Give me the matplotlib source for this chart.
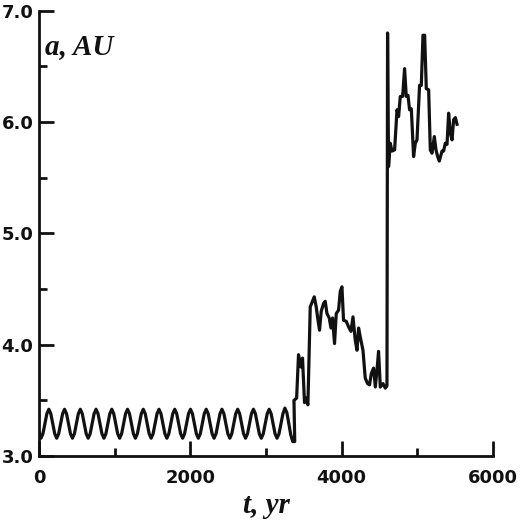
import matplotlib
matplotlib.use("Agg")
import matplotlib.pyplot as plt
import numpy as np
from matplotlib.ticker import MultipleLocator, FormatStrFormatter

# regular oscillation part, sampled every 26 yr from t = 0
osc_step = 26
osc_a = [3.22, 3.16, 3.20, 3.29, 3.38,
         3.42, 3.38, 3.29, 3.20, 3.16, 3.20, 3.29, 3.38,
         3.42, 3.38, 3.29, 3.20, 3.16, 3.20, 3.29, 3.38,
         3.42, 3.38, 3.29, 3.20, 3.16, 3.20, 3.29, 3.38,
         3.42, 3.38, 3.29, 3.20, 3.16, 3.20, 3.29, 3.38,
         3.42, 3.38, 3.29, 3.20, 3.16, 3.20, 3.29, 3.38,
         3.42, 3.38, 3.29, 3.20, 3.16, 3.20, 3.29, 3.38,
         3.42, 3.38, 3.29, 3.20, 3.16, 3.20, 3.29, 3.38,
         3.42, 3.38, 3.29, 3.20, 3.16, 3.20, 3.29, 3.38,
         3.42, 3.38, 3.29, 3.20, 3.16, 3.20, 3.29, 3.38,
         3.42, 3.38, 3.29, 3.20, 3.16, 3.20, 3.29, 3.38,
         3.42, 3.38, 3.29, 3.20, 3.16, 3.20, 3.29, 3.38,
         3.42, 3.38, 3.29, 3.20, 3.16, 3.20, 3.29, 3.38,
         3.42, 3.38, 3.29, 3.20, 3.16, 3.20, 3.29, 3.38,
         3.42, 3.38, 3.29, 3.20, 3.16, 3.20, 3.29, 3.38,
         3.42, 3.38, 3.29, 3.20, 3.16, 3.20, 3.29, 3.38,
         3.43, 3.39, 3.29, 3.19, 3.13, 3.13]
osc_t = np.arange(len(osc_a)) * osc_step

# irregular part after ~3370 yr
t_irr = [3370, 3405, 3430, 3462, 3483, 3509, 3530, 3554, 3585, 3621, 3638,
         3664, 3681, 3708, 3730, 3761, 3783, 3806, 3836, 3859, 3880, 3906,
         3929, 3959, 3982, 4004, 4025, 4061, 4092, 4123, 4150, 4180, 4203,
         4224, 4246, 4282, 4312, 4343, 4369, 4392, 4422, 4445, 4467, 4488,
         4511, 4547, 4577, 4599,
         4607, 4620, 4643, 4665, 4700, 4732, 4753, 4775, 4806, 4832, 4854,
         4877, 4898, 4921, 4951, 4974, 4996, 5030, 5053, 5075, 5097, 5119,
         5150, 5172, 5194, 5225, 5247, 5269, 5291, 5327, 5348, 5370, 5393,
         5414, 5437, 5459, 5480, 5503, 5525]
a_irr = [3.50, 3.52, 3.91, 3.80, 3.88, 3.48, 3.52, 3.46, 4.34, 4.40, 4.43,
         4.34, 4.25, 4.13, 4.30, 4.37, 4.39, 4.28, 4.24, 4.15, 4.24, 4.01,
         4.28, 4.31, 4.48, 4.52, 4.22, 4.21, 4.16, 4.12, 4.25, 4.04, 3.95,
         4.15, 4.07, 3.95, 3.70, 3.65, 3.64, 3.74, 3.79, 3.62, 3.77, 3.94,
         3.62, 3.65, 3.61, 3.63,
         6.80, 5.60, 5.81, 5.74, 5.75, 6.11, 6.05, 6.23, 6.23, 6.48, 6.23,
         6.24, 6.11, 6.12, 5.69, 5.81, 5.84, 6.33, 6.33, 6.78, 6.78, 6.30,
         6.29, 5.75, 5.72, 5.87, 5.75, 5.69, 5.65, 5.74, 5.74, 5.81, 5.80,
         6.08, 5.90, 5.84, 6.02, 6.04, 5.98]

t = np.concatenate([osc_t, t_irr])
a = np.concatenate([osc_a, a_irr])

plt.rcParams['font.family'] = ['DejaVu Sans']
plt.rcParams['font.weight'] = 'bold'
plt.rcParams['font.size'] = 13

fig = plt.figure(figsize=(5.2, 5.22), dpi=100)
ax = fig.add_axes([0.075, 0.1264, 0.873, 0.853])
ax.plot(t, a, color="#111111", lw=2.3, solid_joinstyle="round")

ax.set_xlim(0, 6000)
ax.set_ylim(3.0, 7.0)
ax.xaxis.set_major_locator(MultipleLocator(2000))
ax.xaxis.set_minor_locator(MultipleLocator(1000))
ax.yaxis.set_major_locator(MultipleLocator(1.0))
ax.yaxis.set_minor_locator(MultipleLocator(0.5))
ax.yaxis.set_major_formatter(FormatStrFormatter("%.1f"))

for s in ["top", "right"]:
    ax.spines[s].set_visible(False)
for s in ["left", "bottom"]:
    ax.spines[s].set_linewidth(2.0)
    ax.spines[s].set_color("#111111")

ax.tick_params(which="major", direction="in", length=11, width=2,
               color="#111111", labelcolor="#111111", labelsize=13)
ax.tick_params(which="minor", direction="in", length=6, width=2, color="#111111")
ax.tick_params(axis="x", which="major", pad=9)
ax.tick_params(axis="y", which="major", pad=4)

ax.set_xlabel("t, yr", family="Liberation Serif", style="italic",
              weight="bold", fontsize=21, labelpad=4, color="#111111")
ax.text(0.013, 0.95, "a, AU", transform=ax.transAxes, ha="left", va="top",
        family="Liberation Serif", style="italic", weight="bold",
        fontsize=21, color="#111111")

fig.savefig("out.png", dpi=100)
